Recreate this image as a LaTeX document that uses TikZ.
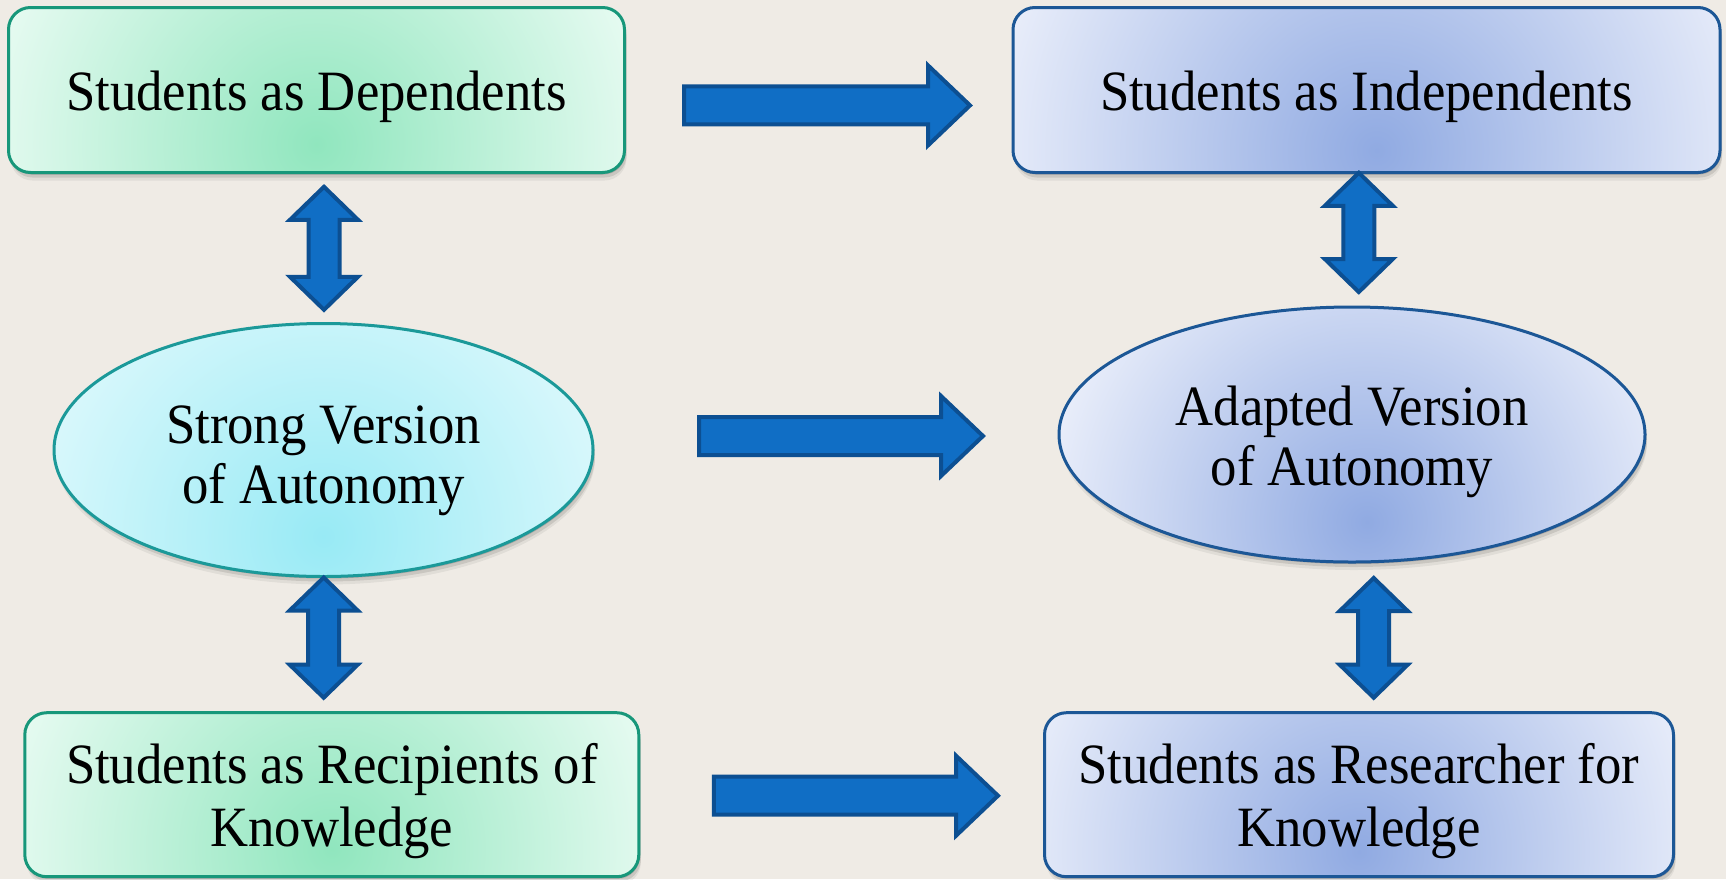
\documentclass[tikz,border=0pt]{standalone}
\usepackage{fontspec}
\setmainfont{Liberation Serif}[FakeStretch=0.925]
\usetikzlibrary{shapes.geometric,shadows,calc}
\definecolor{bg}{HTML}{EFEBE5}
\definecolor{gIn}{HTML}{90E6BE}
\definecolor{gOut}{HTML}{F0FDF7}
\definecolor{gLine}{HTML}{17977A}
\definecolor{bIn}{HTML}{90AAE2}
\definecolor{bOut}{HTML}{F0F3FC}
\definecolor{bLine}{HTML}{1C5796}
\definecolor{cIn}{HTML}{98EAF5}
\definecolor{cOut}{HTML}{E8FBFD}
\definecolor{cLine}{HTML}{1B9999}
\definecolor{arFill}{HTML}{106EC5}
\definecolor{arLine}{HTML}{0C4F92}
\pgfdeclareradialshading{gcirc}{\pgfpoint{0bp}{0bp}}{color(0bp)=(gIn); color(27bp)=(gOut); color(50bp)=(gOut)}
\pgfdeclareradialshading{bcirc}{\pgfpoint{0bp}{0bp}}{color(0bp)=(bIn); color(27bp)=(bOut); color(50bp)=(bOut)}
\pgfdeclareradialshading{ccirc}{\pgfpoint{0bp}{0bp}}{color(0bp)=(cIn); color(30bp)=(cOut); color(50bp)=(cOut)}
\newcommand\twolines[3]{\raisebox{-#1}[0pt][0pt]{\begin{tabular}[b]{@{}c@{}}#2\\#3\end{tabular}}}
\newcommand\oneline[2]{\raisebox{-#1}[0pt][0pt]{#2}}
\newcommand\harrow[2]{\draw[blockarrow] let \p1=(#1), \p2=(#2) in
  (\x1,{\y1+19pt}) -- ({\x2-42pt},{\y1+19pt}) -- ({\x2-42pt},{\y1+40pt}) -- (\x2,\y1)
  -- ({\x2-42pt},{\y1-40pt}) -- ({\x2-42pt},{\y1-19pt}) -- (\x1,{\y1-19pt}) -- cycle;}
\newcommand\vdarrow[2]{\draw[blockarrow] let \p1=(#1), \p2=(#2) in
  (\x1,\y1) -- ({\x1+34pt},{\y1-33pt}) -- ({\x1+15.5pt},{\y1-33pt}) -- ({\x1+15.5pt},{\y2+33pt})
  -- ({\x1+34pt},{\y2+33pt}) -- (\x1,\y2) -- ({\x1-34pt},{\y2+33pt}) -- ({\x1-15.5pt},{\y2+33pt})
  -- ({\x1-15.5pt},{\y1-33pt}) -- ({\x1-34pt},{\y1-33pt}) -- cycle;}
\tikzset{
  softshadow/.style={
    general shadow={shadow xshift=1pt,shadow yshift=-2pt,fill=black,opacity=.16},
    general shadow={shadow xshift=2pt,shadow yshift=-5pt,fill=black,opacity=.10},
    general shadow={shadow xshift=2pt,shadow yshift=-8pt,fill=black,opacity=.06}},
  gradfill/.style n args={4}{path picture={
    \shade[shading=#1] ($(path picture bounding box.south)+(#3,#4)$) circle (#2);}},
  boxtxt/.style={font=\fontsize{57}{63}\selectfont, inner sep=0pt},
  elltxt/.style={font=\fontsize{57}{60}\selectfont, inner sep=0pt},
  greenbox/.style={softshadow, rounded corners=22pt, draw=gLine, line width=3pt, boxtxt},
  bluebox/.style={softshadow, rounded corners=22pt, draw=bLine, line width=3pt, boxtxt},
  cyanell/.style={softshadow, ellipse, draw=cLine, line width=3pt, elltxt},
  blueell/.style={softshadow, ellipse, draw=bLine, line width=3pt, elltxt},
  blockarrow/.style={fill=arFill, draw=arLine, line width=4pt, line join=miter}
}
\begin{document}
\begin{tikzpicture}[x=1pt,y=-1pt]
\useasboundingbox (0,0) rectangle (1726,879);
\fill[bg] (0,0) rectangle (1726,879);

\node[greenbox, gradfill={gcirc}{345}{0}{-28}, minimum width=616pt, minimum height=165pt] (b1) at (316.5,90)
  {\oneline{20.7pt}{Students as Dependents}};
\node[bluebox, gradfill={bcirc}{390}{10}{-22}, minimum width=707pt, minimum height=165pt] (b2) at (1366.5,90)
  {\oneline{20.7pt}{Students as Independents}};
\node[cyanell, gradfill={ccirc}{300}{0}{-40}, minimum width=539pt, minimum height=253pt] (e1) at (323.5,450)
  {\twolines{53pt}{Strong Version}{of Autonomy}};
\node[blueell, gradfill={bcirc}{325}{15}{-40}, minimum width=586pt, minimum height=255pt] (e2) at (1352,434.5)
  {\twolines{50.5pt}{Adapted Version}{of Autonomy}};
\node[greenbox, gradfill={gcirc}{345}{0}{-28}, minimum width=614pt, minimum height=164pt] (b3) at (331.8,794.7)
  {\twolines{51.3pt}{Students as Recipients of}{Knowledge}};
\node[bluebox, gradfill={bcirc}{350}{0}{-25}, minimum width=629pt, minimum height=164pt] (b4) at (1359,794.7)
  {\twolines{51.3pt}{Students as Researcher for}{Knowledge}};

% horizontal arrows
\coordinate (aL) at ($(b1.east)+(58,15.4)$);
\coordinate (aR) at ($(b2.west)+(-41.5,15.4)$);
\coordinate (bL) at ($(e1.east)+(104.5,-14)$);
\coordinate (bR) at ($(e2.west)+(-74.5,1.5)$);
\coordinate (cL) at ($(b3.east)+(73.5,1)$);
\coordinate (cR) at ($(b4.west)+(-45,1)$);
\harrow{aL}{aR}
\harrow{bL}{bR}
\harrow{cL}{cR}

% vertical double arrows
\coordinate (d1t) at ($(b1.south)+(7.5,12.8)$);
\coordinate (d1b) at ($(e1.north)+(0.5,-12.2)$);
\coordinate (d2t) at ($(b2.south)+(-7.7,-1.2)$);
\coordinate (d2b) at ($(e2.north)+(6.8,-13.5)$);
\coordinate (d3t) at ($(e1.south)+(0.2,-0.5)$);
\coordinate (d3b) at ($(b3.north)+(-8.1,-13.5)$);
\coordinate (d4t) at ($(e2.south)+(21.7,14.5)$);
\coordinate (d4b) at ($(b4.north)+(14.7,-13.5)$);
\vdarrow{d1t}{d1b}
\vdarrow{d2t}{d2b}
\vdarrow{d3t}{d3b}
\vdarrow{d4t}{d4b}
\end{tikzpicture}
\end{document}
